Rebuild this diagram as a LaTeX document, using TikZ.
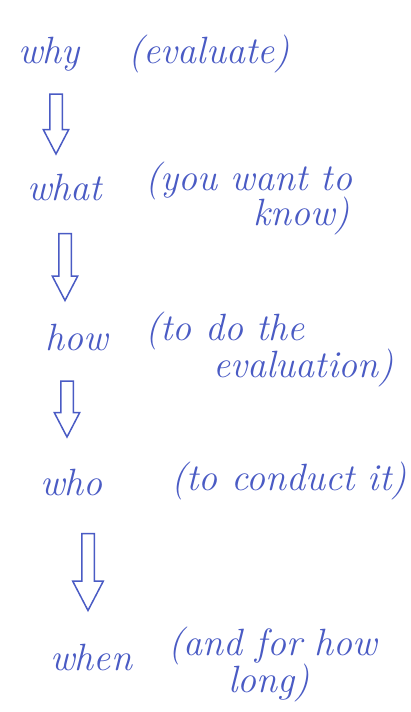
\documentclass[tikz,border=0pt]{standalone}
\usepackage{tikz}
\usetikzlibrary{shapes.arrows}
\definecolor{InkBlue}{HTML}{4A5BC4}

\tikzset{
  hand/.style={anchor=base west,inner sep=0pt,text=InkBlue,
    font=\fontsize{38}{38}\selectfont\itshape},
  hollow/.style={single arrow,draw=InkBlue,line width=1.5pt,
    shape border rotate=270,inner sep=5.5pt,
    single arrow head extend=6.5pt,single arrow tip angle=55}
}

\begin{document}
\begin{tikzpicture}[x=1pt,y=-1pt]
  \useasboundingbox (0,0) rectangle (410,712);
  % steps
  \node[hand] (why) at (18,63) {why};
  \node[hand] (whyNote) at (128,63) {(evaluate)};
  \node[hand] (what) at (27,200) {what};
  \node[hand] (whatNote) at (145,190) {(you want to};
  \node[hand] (whatMore) at (253,225) {know)};
  \node[hand] (how) at (45,350) {how};
  \node[hand] (howNote) at (145,340) {(to do the};
  \node[hand] (howMore) at (213,377) {evaluation)};
  \node[hand] (who) at (40,495) {who};
  \node[hand] (whoNote) at (171,490) {(to conduct it)};
  \node[hand] (when) at (50,670) {when};
  \node[hand] (whenNote) at (168,655) {(and for how};
  \node[hand] (whenMore) at (228,692) {long)};
  % arrows between steps
  \node[hollow,minimum height=60pt] (a1) at (56,118) {};
  \node[hollow,minimum height=67pt] (a2) at (65,261) {};
  \node[hollow,minimum height=56pt] (a3) at (67,403) {};
  \node[hollow,minimum height=77pt,single arrow head extend=9pt] (a4) at (88,566) {};
\end{tikzpicture}
\end{document}
